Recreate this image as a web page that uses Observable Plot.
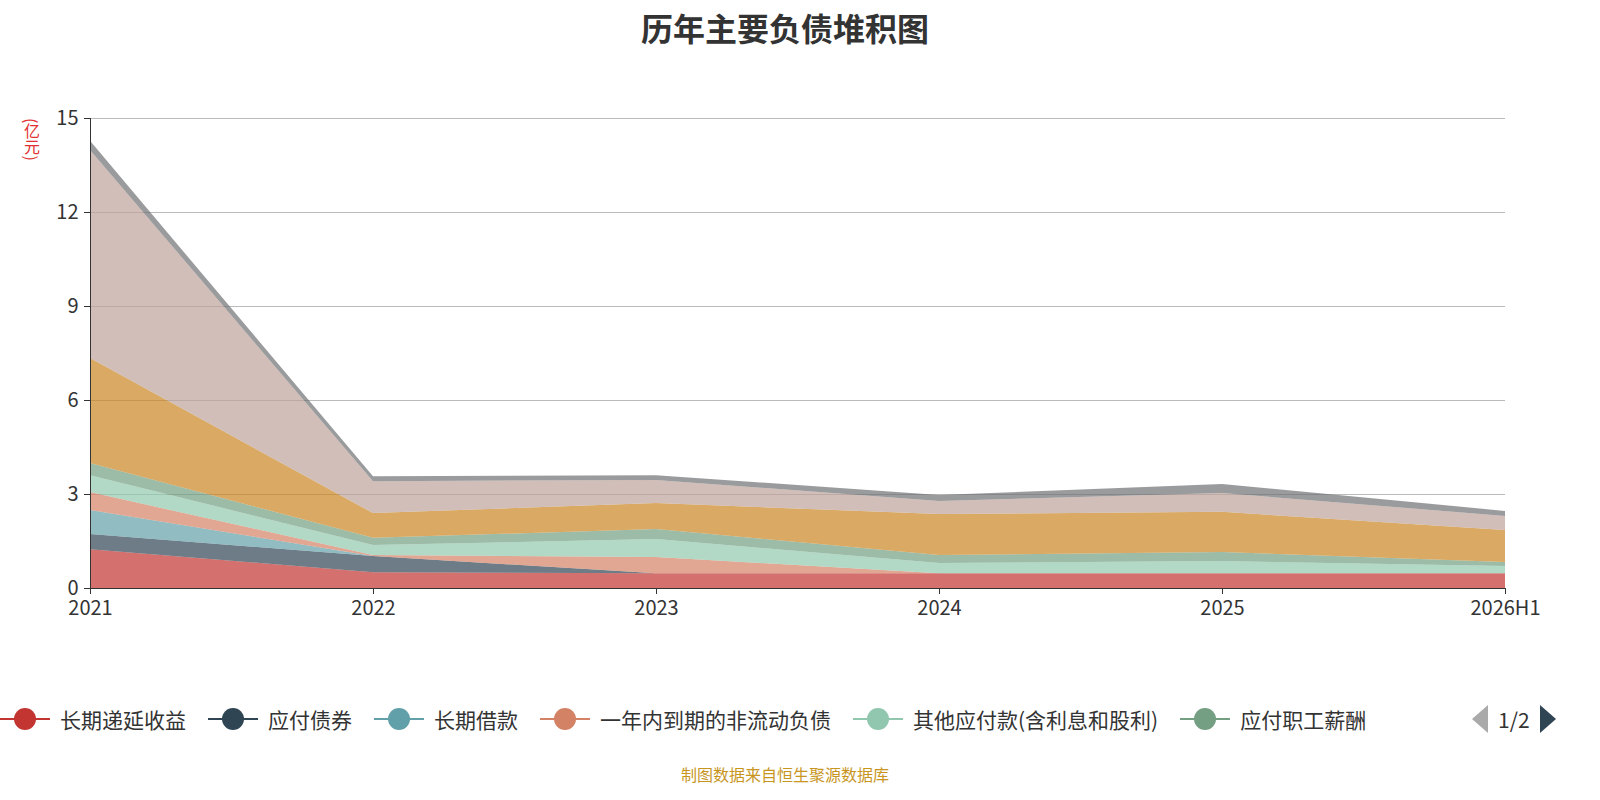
<!DOCTYPE html>
<html><head><meta charset="utf-8">
<script src="https://cdn.jsdelivr.net/npm/d3@7"></script>
<script src="https://cdn.jsdelivr.net/npm/@observablehq/plot@0.6"></script>
<style>
html,body{margin:0;padding:0}
body{width:1600px;height:800px;position:relative;font-family:"Noto Sans CJK SC","Noto Sans",sans-serif;background:#fff;overflow:hidden}
#title{position:absolute;top:4px;left:0;width:1570px;text-align:center;font-size:32px;font-weight:bold;color:#333}
#chart{position:absolute;top:0;left:0}
#unit{position:absolute;left:20px;top:118px;color:#e03030;font-size:16px;writing-mode:vertical-rl;}
#legend{position:absolute;top:704px;left:0;white-space:nowrap;font-size:21px;color:#333;width:1452px;overflow:hidden}
.it{display:inline-flex;align-items:center;margin-right:22px}
.sym{position:relative;width:50px;height:30px;margin-right:10px}
.sym .ln{position:absolute;left:0;right:0;top:14px;height:2px}
.sym .c{position:absolute;left:14px;top:4px;width:22px;height:22px;border-radius:50%}
#pager{position:absolute;top:704px;left:1472px;font-size:21px;color:#333;display:flex;align-items:center;gap:10px}
#caption{position:absolute;top:762px;left:0;width:1570px;text-align:center;font-size:16px;color:#c8961e}
</style></head><body>
<div id="title">历年主要负债堆积图</div>
<div id="chart"></div>
<div id="unit">(亿元)</div>
<div id="legend"></div>
<div id="pager"><span style="width:0;height:0;border-top:14px solid transparent;border-bottom:14px solid transparent;border-right:16px solid #aaa"></span><span>1/2</span><span style="width:0;height:0;border-top:14px solid transparent;border-bottom:14px solid transparent;border-left:16px solid #2f4554"></span></div>
<div id="caption">制图数据来自恒生聚源数据库</div>
<script>
const years = ["2021","2022","2023","2024","2025","2026H1"];
const seriesNames = ["长期递延收益","应付债券","长期借款","一年内到期的非流动负债","其他应付款(含利息和股利)","应付职工薪酬","应交税费","应付账款","合同负债"];
const colors = ["#c23531","#2f4554","#61a0a8","#d48265","#91c7ae","#749f83","#ca8622","#bda29a","#6e7074"];
const v长期递延收益 = [1.24,0.50,0.47,0.47,0.47,0.47];
const v应付债券 = [0.48,0.52,0,0,0,0];
const v长期借款 = [0.77,0,0,0,0,0];
const v一年内到期 = [0.57,0.03,0.52,0,0,0];
const v其他应付款 = [0.54,0.32,0.57,0.33,0.39,0.23];
const v应付职工薪酬 = [0.39,0.23,0.32,0.25,0.29,0.13];
const v应交税费 = [3.35,0.79,0.83,1.31,1.28,1.02];
const v应付账款 = [6.64,1.02,0.74,0.42,0.60,0.45];
const v合同负债 = [0.29,0.16,0.15,0.19,0.29,0.16];
const all = [v长期递延收益,v应付债券,v长期借款,v一年内到期,v其他应付款,v应付职工薪酬,v应交税费,v应付账款,v合同负债];
const data = [];
all.forEach((arr,si)=>arr.forEach((v,i)=>data.push({year:years[i],series:seriesNames[si],value:v})));
const plot = Plot.plot({
  width:1600,height:800,
  marginLeft:90,marginRight:95,marginTop:118,marginBottom:212,
  style:{fontSize:"20px",fontFamily:"Noto Sans CJK SC, sans-serif",color:"#333"},
  x:{type:"point",domain:years,padding:0,label:null,tickSize:6,tickPadding:6},
  y:{domain:[0,15],ticks:[0,3,6,9,12,15],label:null,grid:false,tickSize:6,tickPadding:6},
  color:{domain:seriesNames,range:colors},
  marks:[
    Plot.ruleY([3,6,9,12,15],{stroke:"#bbb",strokeWidth:1.2}),
    Plot.areaY(data,{x:"year",y:"value",fill:"series",fillOpacity:0.7,order:seriesNames}),
    Plot.ruleY([0],{stroke:"#333"}),
    Plot.ruleX([years[0]],{stroke:"#333"})
  ]
});
document.getElementById("chart").appendChild(plot);
const lg = document.getElementById("legend");
seriesNames.slice(0,6).forEach((n,i)=>{
  const d=document.createElement("span");d.className="it";
  d.innerHTML=`<span class="sym"><span class="ln" style="background:${colors[i]}"></span><span class="c" style="background:${colors[i]}"></span></span>${n}`;
  lg.appendChild(d);
});
</script>
</body></html>
